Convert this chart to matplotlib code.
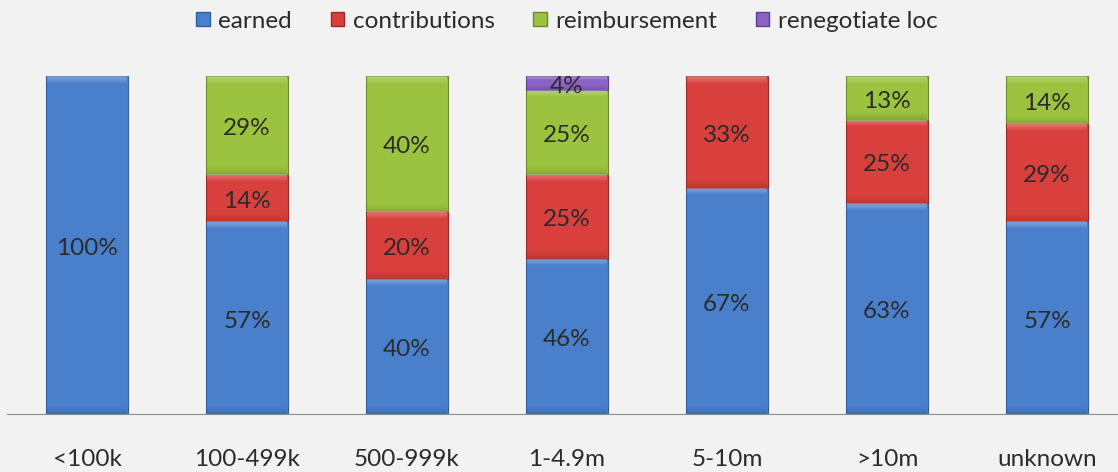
import numpy as np
import matplotlib.pyplot as plt
from matplotlib.patches import Patch

categories = ['<100k', '100-499k', '500-999k', '1-4.9m', '5-10m', '>10m', 'unknown']
earned = [100, 57, 40, 46, 67, 63, 57]
contributions = [0, 14, 20, 25, 33, 25, 29]
reimbursement = [0, 29, 40, 25, 0, 13, 14]
renegotiate = [0, 0, 0, 4, 0, 0, 0]

series = [('earned', earned, '#4a7fcb', '#2f5f9e'),
          ('contributions', contributions, '#d8403d', '#9e2a28'),
          ('reimbursement', reimbursement, '#9cc33f', '#6d8a2a'),
          ('renegotiate loc', renegotiate, '#8b63c4', '#5e3f8c')]

plt.rcParams['font.family'] = ['Lato', 'DejaVu Sans']
bg = '#f2f2f2'
fig = plt.figure(figsize=(11.18, 4.72), dpi=100, facecolor=bg)
ax = fig.add_axes([7 / 1118, 58 / 472, 1120 / 1118, 338 / 472])
ax.set_facecolor(bg)

x = np.arange(len(categories))
totals = np.sum([s[1] for s in series], axis=0)
bottom = np.zeros(len(categories))
w = 0.51
for name, vals, col, dark in series:
    vals = np.array(vals, dtype=float)
    h = vals / totals * 100
    for i in range(len(x)):
        if h[i] <= 0:
            continue
        ax.bar(x[i], h[i], w, bottom=bottom[i], color=col, edgecolor=dark, linewidth=0.8, zorder=2)
        # soft bevel: light fade at the top, darker fade at the bottom
        band = min(2.0, h[i] * 0.3)
        for k in range(6):
            hh = band / 6
            ax.bar(x[i], hh, w * 0.97, bottom=bottom[i] + h[i] - (k + 1) * hh,
                   color='white', alpha=0.30 * (1 - k / 6), linewidth=0, zorder=3)
            ax.bar(x[i], hh, w * 0.97, bottom=bottom[i] + k * hh,
                   color='black', alpha=0.12 * (1 - k / 6), linewidth=0, zorder=3)
        ax.text(x[i], bottom[i] + h[i] / 2 - 1, f'{int(vals[i])}%', ha='center', va='center',
                fontsize=17.5, color='#2b2b2b', zorder=4)
    bottom += h

ax.set_xlim(-0.5, 6.5)
ax.set_ylim(0, 100)
for s in ['top', 'right', 'left']:
    ax.spines[s].set_visible(False)
ax.spines['bottom'].set_color('#8c8c8c')
ax.set_yticks([])
ax.set_xticks(x)
ax.set_xticklabels(categories, fontsize=17.5, color='#2b2b2b')
ax.tick_params(axis='x', length=0, pad=25)

handles = [Patch(facecolor=c, edgecolor=d, label=n) for n, v, c, d in series]
fig.legend(handles=handles, loc='center', bbox_to_anchor=(567 / 1118, 1 - 21 / 472), ncol=4,
           frameon=False, fontsize=17.5, handlelength=0.55, handleheight=0.55, handletextpad=0.35,
           columnspacing=1.6, labelcolor='#2b2b2b')

fig.savefig('out.png', dpi=100, facecolor=bg)
